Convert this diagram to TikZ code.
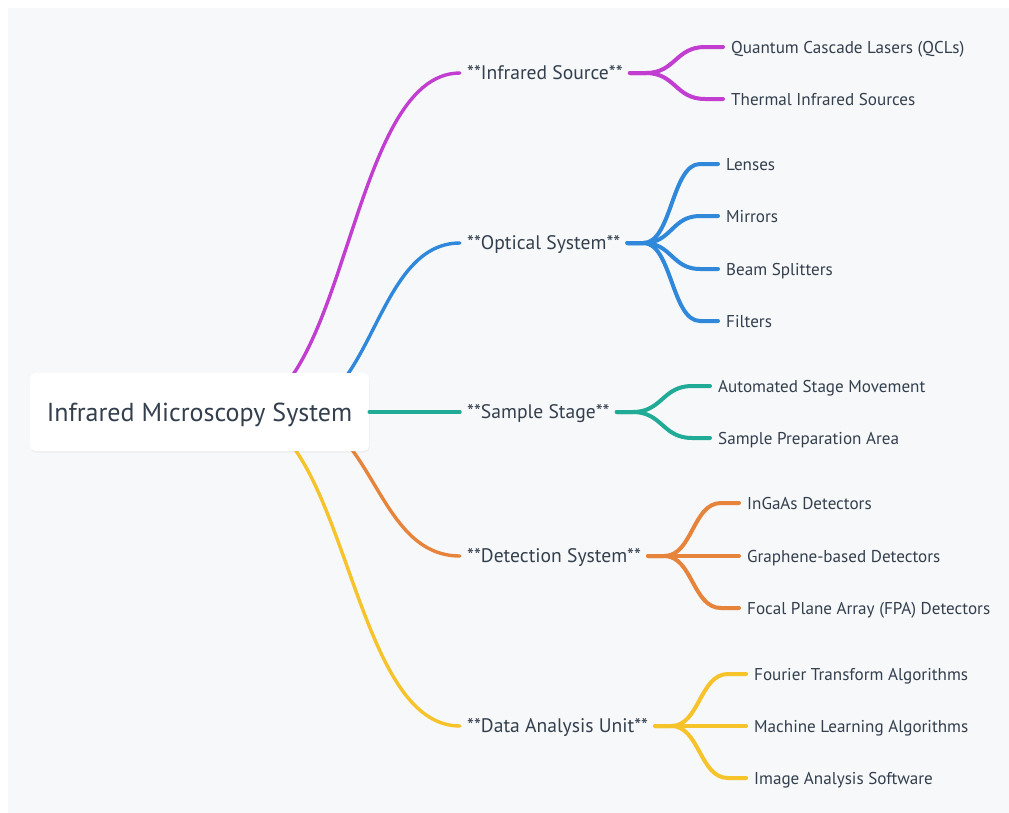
\documentclass[tikz,border=0pt]{standalone}
\usepackage{fontspec}
\setmainfont{PT Sans}
\usetikzlibrary{calc}

\definecolor{panel}{HTML}{F7F8FA}
\definecolor{ink}{HTML}{333F4D}
\definecolor{cMag}{HTML}{C13ED0}
\definecolor{cBlue}{HTML}{2F88DA}
\definecolor{cTeal}{HTML}{1FAB96}
\definecolor{cOrange}{HTML}{E6843C}
\definecolor{cYellow}{HTML}{F6C32A}

\tikzset{
  rootbox/.style={fill=white, rounded corners=5pt, minimum width=339pt, minimum height=78pt,
    text=ink, font=\fontsize{26}{30}\selectfont, inner sep=0pt,
    text height=18.2pt, text depth=0pt},
  topic/.style={anchor=west, text=ink, inner xsep=7pt, inner ysep=2pt,
    font=\fontsize{19.6}{23}\selectfont, text height=13.7pt, text depth=0pt},
  leaf/.style={anchor=west, text=ink, inner xsep=8pt, inner ysep=2pt,
    font=\fontsize{17.1}{20}\selectfont, text height=12pt, text depth=0pt},
  trunk/.style={line width=3.4pt, line cap=round},
  twig/.style={line width=4pt, line cap=round},
}

% branch from a topic to one of its leaves
\newcommand{\twigline}[3]{%
  \path (#1.east) ++(16,0) coordinate (tws);
  \path ([xshift=-18pt]#2.west) coordinate (twe);
  \path ($(tws)!0.5!(twe)$) coordinate (twm);
  \draw[twig, #3] (#1.east) -- (tws) .. controls (twm |- tws) and (twm |- twe) .. (twe) -- (#2.west);
}

\begin{document}
\begin{tikzpicture}[x=1pt, y=-1pt]
\useasboundingbox (0,0) rectangle (1009,812);
\fill[white] (0,0) rectangle (1009,812);
\fill[panel] (8,8) rectangle (1030,830);

% first-level topics
\node[topic] (src) at (460,73)  {**Infrared Source**};
\node[topic] (opt) at (460,243) {**Optical System**};
\node[topic] (stg) at (460,412) {**Sample Stage**};
\node[topic] (det) at (460,556) {**Detection System**};
\node[topic] (dat) at (460,726) {**Data Analysis Unit**};

% leaves
\node[leaf] (qcl) at (723,47)  {Quantum Cascade Lasers (QCLs)};
\node[leaf] (thr) at (723,99)  {Thermal Infrared Sources};
\node[leaf] (len) at (718,164) {Lenses};
\node[leaf] (mir) at (718,216) {Mirrors};
\node[leaf] (bsp) at (718,269) {Beam Splitters};
\node[leaf] (fil) at (718,321) {Filters};
\node[leaf] (asm) at (710,386) {Automated Stage Movement};
\node[leaf] (spa) at (710,438) {Sample Preparation Area};
\node[leaf] (ing) at (739,503) {InGaAs Detectors};
\node[leaf] (grp) at (739,556) {Graphene-based Detectors};
\node[leaf] (fpa) at (739,608) {Focal Plane Array (FPA) Detectors};
\node[leaf] (fta) at (746,674) {Fourier Transform Algorithms};
\node[leaf] (mla) at (746,726) {Machine Learning Algorithms};
\node[leaf] (ias) at (746,778) {Image Analysis Software};

% trunk curves, drawn before the root so the box hides their origins
\coordinate (root) at (199.5,412);
\coordinate (oa) at (236,412);
\coordinate (ob) at (288,412);
\foreach \o/\t/\c in {oa/src/cMag, ob/opt/cBlue, ob/det/cOrange, oa/dat/cYellow}{
  \path ($(\o)!0.5!(\t.west)$) coordinate (mid);
  \draw[trunk, \c] (\o) .. controls (mid |- \o) and (mid |- \t.west) .. (\t.west);
}

\node[rootbox, fill=black, opacity=0.04, xshift=0.5pt, yshift=-1.5pt] at (root) {};
\node[rootbox] (rt) at (root) {Infrared Microscopy System};
\draw[trunk, cTeal] (rt.east) -- (stg.west);

% twigs
\twigline{src}{qcl}{cMag}
\twigline{src}{thr}{cMag}
\twigline{opt}{len}{cBlue}
\twigline{opt}{mir}{cBlue}
\twigline{opt}{bsp}{cBlue}
\twigline{opt}{fil}{cBlue}
\twigline{stg}{asm}{cTeal}
\twigline{stg}{spa}{cTeal}
\twigline{det}{ing}{cOrange}
\twigline{det}{grp}{cOrange}
\twigline{det}{fpa}{cOrange}
\twigline{dat}{fta}{cYellow}
\twigline{dat}{mla}{cYellow}
\twigline{dat}{ias}{cYellow}
\end{tikzpicture}
\end{document}
